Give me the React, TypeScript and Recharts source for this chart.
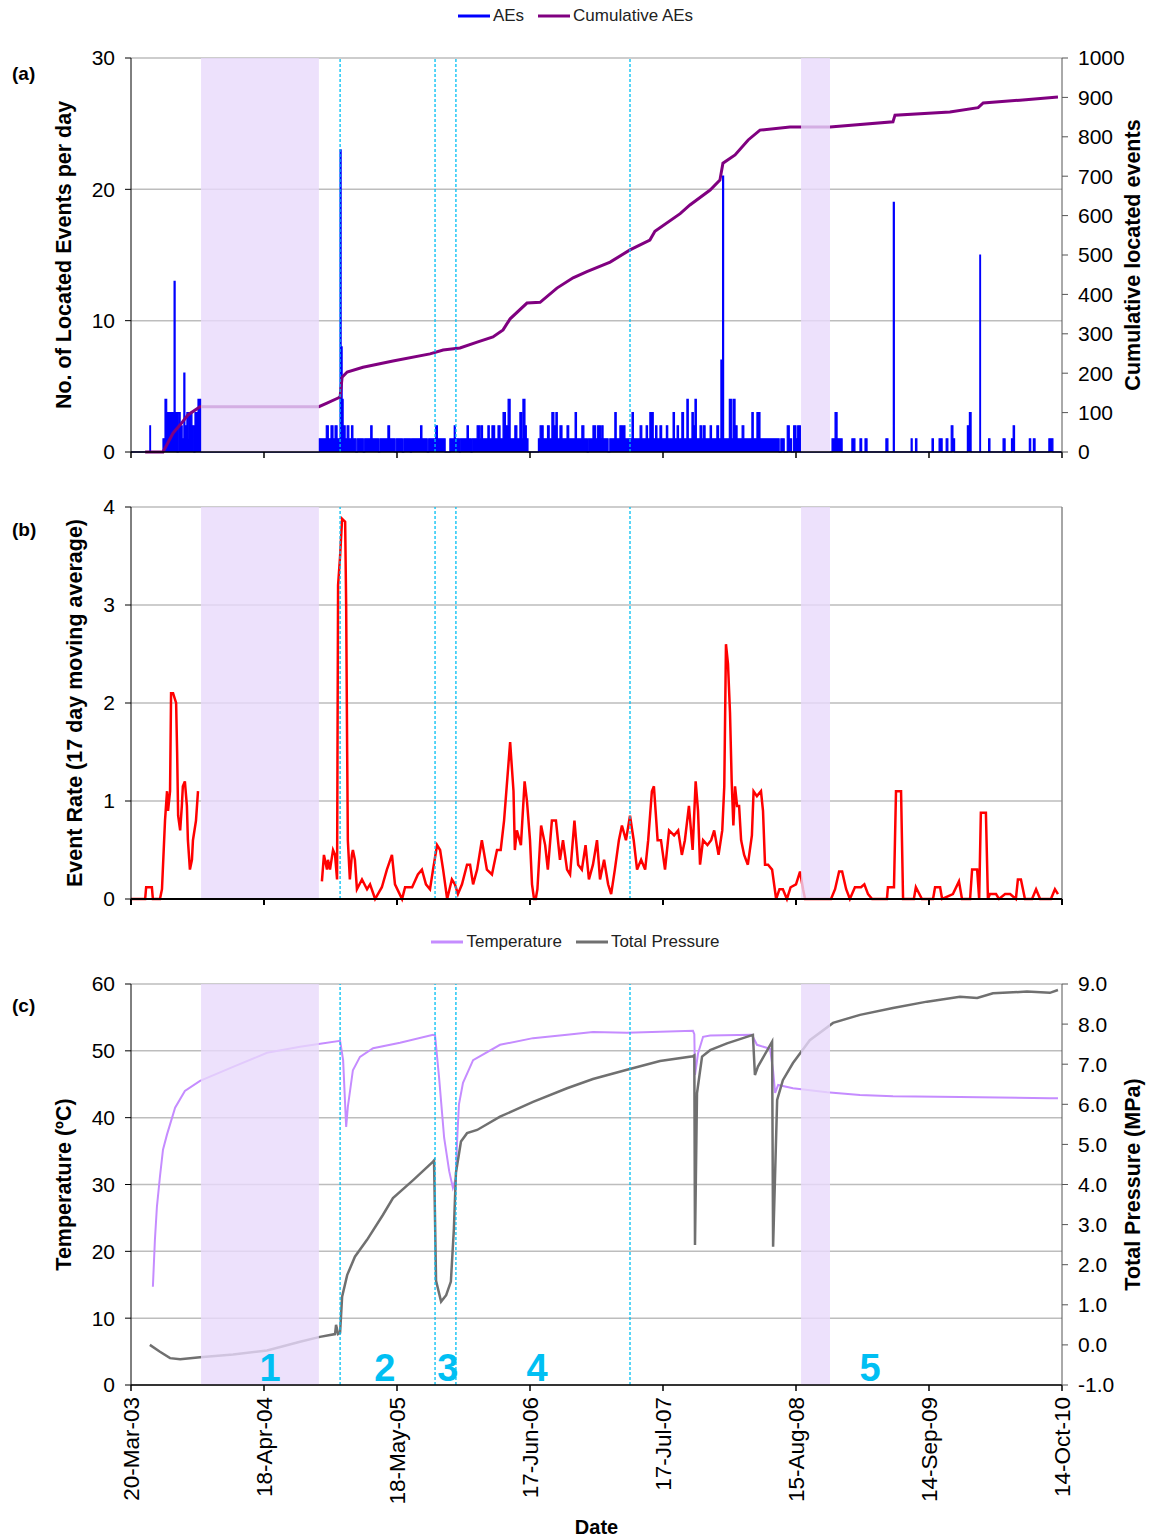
import React from 'react';
import {
  Area,
  CartesianGrid,
  ComposedChart,
  Line,
  ReferenceArea,
  ReferenceDot,
  ReferenceLine,
  XAxis,
  YAxis,
} from 'recharts';

const FONT = '"Liberation Sans", Arial, sans-serif';
const W = 1151;

// x axis is in days since 20-Mar-03
const dayTicks = [0, 395, 790, 1185, 1580, 1975, 2370, 2765];
const dateLabels = ['20-Mar-03', '18-Apr-04', '18-May-05', '17-Jun-06', '17-Jul-07', '15-Aug-08', '14-Sep-09', '14-Oct-10'];

const shadedPeriods: [number, number][] = [[208, 558], [1990, 2076]];
const stageLines = [621, 903, 965, 1482];
const stageLabels = [
  { day: 413, text: '1' },
  { day: 754, text: '2' },
  { day: 941, text: '3' },
  { day: 1206, text: '4' },
  { day: 2195, text: '5' },
];

// (a) located AEs per day, [day, count] (count holds until next entry)
const aeSteps: [number, number][] = [
  [0, 0], [56, 2], [58, 0],
  [95, 1], [101, 4], [106, 3], [128, 13], [131, 3], [137, 0], [140, 3], [146, 2], [152, 1], [157, 6], [160, 2],
  [166, 3], [172, 1], [175, 3], [181, 2], [187, 0], [190, 3], [196, 2], [199, 4], [208, 0],
  [558, 1], [580, 2], [586, 1], [594, 2], [600, 1], [606, 2], [612, 1], [621, 23], [624, 8], [627, 4], [630, 2], [636, 1],
  [642, 2], [647, 1], [655, 2], [659, 1], [668, 0], [672, 1], [690, 0], [694, 1], [712, 2], [716, 1], [735, 0], [739, 1],
  [763, 2], [768, 1], [784, 0], [788, 1], [806, 0], [810, 1], [830, 0], [833, 1], [860, 2], [864, 1], [880, 0], [884, 1],
  [905, 2], [910, 1], [933, 0], [947, 1], [960, 2], [963, 1], [975, 0], [978, 1], [998, 2], [1002, 1], [1010, 0], [1013, 1],
  [1028, 2], [1036, 1], [1040, 2], [1044, 1], [1060, 2], [1064, 1], [1072, 2], [1080, 1], [1090, 2], [1096, 1],
  [1105, 3], [1112, 2], [1120, 4], [1126, 1], [1140, 2], [1146, 1], [1155, 3], [1160, 1], [1164, 4], [1170, 2], [1174, 1],
  [1179, 0], [1210, 1], [1215, 2], [1224, 1], [1237, 2], [1242, 1], [1250, 3], [1256, 2], [1262, 3], [1266, 1], [1274, 2], [1280, 1],
  [1295, 2], [1300, 1], [1319, 3], [1323, 1], [1339, 2], [1345, 1], [1355, 0], [1358, 1], [1372, 2], [1380, 1], [1386, 2],
  [1394, 1], [1398, 2], [1402, 1], [1417, 0], [1422, 1], [1437, 3], [1441, 1], [1452, 2], [1460, 1], [1463, 2], [1467, 1],
  [1488, 3], [1492, 1], [1512, 2], [1517, 1], [1530, 2], [1534, 1], [1541, 3], [1546, 1], [1548, 3], [1551, 1], [1558, 2],
  [1562, 1], [1571, 2], [1576, 1], [1590, 2], [1594, 1], [1610, 3], [1614, 1], [1622, 2], [1626, 1], [1636, 3], [1641, 1],
  [1651, 4], [1655, 1], [1666, 3], [1670, 2], [1675, 4], [1679, 1], [1690, 2], [1694, 1], [1699, 2], [1705, 1], [1720, 2],
  [1724, 1], [1740, 2], [1745, 1], [1752, 7], [1757, 21], [1760, 1], [1777, 4], [1783, 1], [1788, 4], [1794, 2], [1800, 1],
  [1815, 2], [1820, 1], [1844, 3], [1848, 1], [1859, 3], [1868, 1], [1925, 0], [1930, 1], [1940, 0], [1949, 2], [1955, 1],
  [1962, 0], [1968, 2], [1975, 1], [1980, 2], [1988, 0],
  [2082, 1], [2091, 3], [2097, 1], [2112, 0], [2141, 1], [2150, 0], [2165, 1], [2170, 0], [2180, 1], [2186, 0], [2242, 1],
  [2248, 0], [2264, 19], [2267, 0], [2317, 1], [2320, 0], [2330, 1], [2334, 0], [2379, 1], [2383, 0], [2400, 1], [2409, 0],
  [2421, 1], [2426, 0], [2436, 2], [2441, 1], [2446, 0], [2484, 2], [2490, 3], [2495, 0], [2521, 15], [2523, 0], [2547, 1],
  [2551, 0], [2590, 1], [2596, 0], [2615, 1], [2620, 2], [2624, 0], [2668, 1], [2672, 0], [2680, 1], [2685, 0], [2726, 1],
  [2738, 0], [2765, 0],
];

// (a) cumulative located events
const cumulative: [number, number][] = [
  [42, 0], [95, 0], [125, 48], [146, 69], [169, 94], [205, 115], [558, 115], [582, 124], [615, 137], [621, 140], [627, 190],
  [642, 203], [689, 215], [778, 231], [888, 249], [927, 259], [977, 264], [1028, 279], [1075, 292], [1105, 310], [1126, 338],
  [1176, 378], [1215, 380], [1265, 416], [1313, 442], [1354, 458], [1423, 482], [1482, 513], [1541, 538], [1556, 560],
  [1631, 605], [1660, 627], [1720, 665], [1749, 690], [1758, 733], [1794, 754], [1833, 792], [1868, 817], [1957, 825],
  [2076, 825], [2263, 838], [2269, 855], [2432, 863], [2516, 874], [2531, 886], [2640, 893], [2753, 901],
];

// (b) 17 day moving average event rate (null = no data)
const eventRate: [number, number | null][] = [
  [0, 0], [42, 0], [45, 0.12], [62, 0.12], [65, 0], [86, 0], [92, 0.1], [101, 0.8], [107, 1.1], [110, 0.9], [116, 1.1],
  [119, 2.1], [125, 2.1], [134, 2.0], [137, 1.5], [140, 0.85], [146, 0.7], [151, 0.95], [154, 1.15], [160, 1.2], [166, 0.95],
  [169, 0.6], [175, 0.3], [181, 0.4], [184, 0.6], [193, 0.8], [199, 1.1],
  [380, null],
  [567, 0.18], [573, 0.45], [582, 0.3], [585, 0.4], [591, 0.3], [600, 0.5], [606, 0.45], [612, 0.2], [615, 3.2], [621, 3.5],
  [627, 3.88], [636, 3.85], [639, 3.0], [642, 1.5], [644, 0.6], [650, 0.2], [656, 0.45], [659, 0.5], [665, 0.4], [671, 0.1],
  [686, 0.2], [701, 0.1], [710, 0.15], [725, 0.0], [745, 0.12], [760, 0.3], [775, 0.45], [784, 0.15], [805, 0.0], [814, 0.12],
  [835, 0.12], [852, 0.25], [864, 0.3], [876, 0.15], [888, 0.1], [897, 0.3], [909, 0.55], [918, 0.5], [927, 0.3], [939, 0.0],
  [953, 0.2], [962, 0.15], [971, 0.05], [983, 0.15], [998, 0.35], [1007, 0.35], [1016, 0.15], [1028, 0.3], [1042, 0.6],
  [1057, 0.3], [1072, 0.25], [1087, 0.5], [1098, 0.5], [1108, 0.8], [1126, 1.6], [1136, 1.1], [1140, 0.5], [1146, 0.7],
  [1158, 0.55], [1169, 1.2], [1176, 1.0], [1185, 0.6], [1191, 0.15], [1197, 0.0], [1202, 0.0], [1207, 0.1], [1218, 0.75],
  [1230, 0.55], [1238, 0.3], [1250, 0.8], [1262, 0.8], [1274, 0.4], [1283, 0.6], [1295, 0.3], [1304, 0.25], [1317, 0.8],
  [1328, 0.35], [1339, 0.3], [1350, 0.55], [1360, 0.2], [1372, 0.35], [1384, 0.6], [1393, 0.2], [1405, 0.4], [1417, 0.15],
  [1426, 0.05], [1437, 0.3], [1449, 0.6], [1458, 0.75], [1470, 0.6], [1482, 0.85], [1493, 0.6], [1503, 0.3], [1515, 0.4],
  [1527, 0.3], [1536, 0.6], [1547, 1.1], [1553, 1.15], [1564, 0.6], [1574, 0.6], [1586, 0.3], [1598, 0.7], [1613, 0.65],
  [1625, 0.7], [1636, 0.45], [1645, 0.6], [1657, 0.95], [1668, 0.5], [1677, 1.2], [1684, 0.9], [1690, 0.35], [1699, 0.6],
  [1712, 0.55], [1723, 0.6], [1732, 0.7], [1745, 0.45], [1756, 0.7], [1762, 1.15], [1767, 2.6], [1773, 2.4], [1779, 1.9],
  [1784, 1.2], [1789, 0.75], [1794, 1.15], [1800, 0.95], [1806, 0.95], [1812, 0.6], [1821, 0.45], [1832, 0.35], [1844, 0.65],
  [1849, 1.1], [1859, 1.05], [1871, 1.1], [1877, 0.9], [1883, 0.35], [1892, 0.35], [1904, 0.3], [1916, 0.0], [1926, 0.1],
  [1936, 0.1], [1948, 0.0], [1959, 0.12], [1975, 0.15], [1987, 0.28], [1996, 0.1], [2002, 0.0], [2079, 0.0], [2091, 0.1],
  [2103, 0.28], [2112, 0.28], [2124, 0.1], [2135, 0.0], [2150, 0.12], [2168, 0.12], [2178, 0.15], [2189, 0.05], [2201, 0.0],
  [2245, 0.0], [2248, 0.12], [2266, 0.12], [2272, 1.1], [2287, 1.1], [2293, 0.0], [2325, 0.0], [2331, 0.12], [2349, 0.0],
  [2382, 0.0], [2388, 0.12], [2403, 0.12], [2409, 0.0], [2441, 0.05], [2459, 0.18], [2468, 0.0], [2492, 0.0], [2498, 0.3],
  [2513, 0.3], [2519, 0.0], [2524, 0.88], [2539, 0.88], [2545, 0.0], [2551, 0.05], [2569, 0.05], [2578, 0.0], [2596, 0.05],
  [2611, 0.05], [2628, 0.0], [2634, 0.2], [2643, 0.2], [2655, 0.0], [2676, 0.0], [2688, 0.1], [2700, 0.0], [2732, 0.0],
  [2744, 0.1], [2753, 0.05],
];

// (c) temperature (ºC)
const temperature: [number, number][] = [
  [65, 14.7], [71, 21.7], [77, 26.7], [86, 31.2], [95, 35.2], [107, 37.5], [131, 41.5], [160, 44.0], [205, 45.5], [303, 47.6],
  [404, 49.7], [502, 50.6], [552, 51.0], [621, 51.5], [630, 48.6], [639, 38.6], [644, 41.6], [659, 47.1], [680, 49.1],
  [719, 50.4], [799, 51.2], [897, 52.4], [903, 52.3], [915, 46], [930, 37], [945, 32], [956, 29.5], [965, 31], [968, 36],
  [974, 42], [986, 45.2], [1016, 48.6], [1096, 50.9], [1194, 51.9], [1295, 52.4], [1372, 52.8], [1473, 52.7], [1669, 53.0],
  [1673, 52.5], [1675, 46.4], [1684, 49.6], [1699, 52.1], [1720, 52.3], [1844, 52.4], [1859, 50.9], [1898, 50.3], [1907, 47],
  [1913, 43.7], [1922, 44.9], [1966, 44.4], [2067, 43.8], [2165, 43.4], [2263, 43.2], [2462, 43.1], [2729, 42.9], [2753, 42.9],
];

// (c) total pressure (MPa)
const pressure: [number, number][] = [
  [56, 0.0], [86, -0.17], [116, -0.33], [146, -0.36], [205, -0.31], [303, -0.24], [404, -0.14], [502, 0.08], [561, 0.2],
  [606, 0.27], [609, 0.5], [615, 0.27], [621, 0.3], [627, 1.2], [642, 1.74], [665, 2.2], [701, 2.62], [748, 3.24], [778, 3.66],
  [838, 4.11], [897, 4.57], [900, 4.6], [906, 1.6], [921, 1.08], [936, 1.24], [950, 1.58], [959, 2.9], [965, 4.29], [980, 5.07],
  [998, 5.28], [1028, 5.36], [1096, 5.69], [1194, 6.06], [1295, 6.4], [1372, 6.63], [1473, 6.86], [1571, 7.08], [1669, 7.2],
  [1673, 7.22], [1675, 2.49], [1681, 6.28], [1696, 7.19], [1720, 7.35], [1770, 7.52], [1847, 7.73], [1853, 6.73], [1862, 6.94],
  [1904, 7.56], [1907, 2.45], [1919, 6.11], [1936, 6.6], [1966, 7.03], [2016, 7.6], [2085, 8.03], [2165, 8.23], [2263, 8.4],
  [2364, 8.56], [2462, 8.68], [2513, 8.65], [2560, 8.77], [2661, 8.81], [2729, 8.78], [2753, 8.85],
];

const aeData = aeSteps.map(([day, n]) => ({ day, n }));
const cumData = cumulative.map(([day, c]) => ({ day, c }));
const rateData = eventRate.map(([day, r]) => ({ day, r }));
const tempData = temperature.map(([day, t]) => ({ day, t }));
const pressData = pressure.map(([day, p]) => ({ day, p }));

const tickStyle = { fontSize: 21, fill: '#000', fontFamily: FONT };

const yTitle = (text: string, cx: number) => (props: any) => {
  const vb = props.viewBox || {};
  const cy = (vb.y || 0) + (vb.height || 0) / 2;
  return (
    <text
      x={cx}
      y={cy}
      transform={`rotate(-90, ${cx}, ${cy})`}
      textAnchor="middle"
      dominantBaseline="central"
      fontWeight="bold"
      fontSize={21.5}
      fontFamily={FONT}
      fill="#000"
    >
      {text}
    </text>
  );
};

const dateTitle = (props: any) => {
  const vb = props.viewBox || {};
  return (
    <text x={vb.x + vb.width / 2} y={vb.y + vb.height - 5} textAnchor="middle" fontWeight="bold" fontSize={20} fontFamily={FONT} fill="#000">
      Date
    </text>
  );
};

const DateTick = ({ x, y, payload }: any) => (
  <text
    x={x}
    y={y}
    transform={`rotate(-90, ${x}, ${y})`}
    textAnchor="end"
    dy="0.35em"
    fontSize={22.5}
    fill="#000"
    fontFamily={FONT}
  >
    {dateLabels[dayTicks.indexOf(payload.value)]}
  </text>
);

const stageText = (text: string) => (props: any) => {
  const vb = props.viewBox || {};
  return (
    <text
      x={vb.x + vb.width / 2}
      y={vb.y + vb.height / 2}
      textAnchor="middle"
      dominantBaseline="central"
      fontSize={38}
      fontWeight="bold"
      fontFamily={FONT}
      fill="#00bff3"
    >
      {text}
    </text>
  );
};

const LegendItem = ({ color, label, gap }: { color: string; label: string; gap?: boolean }) => (
  <span style={{ display: 'inline-flex', alignItems: 'center', marginLeft: gap ? 14 : 0 }}>
    <svg width={32} height={10}>
      <line x1={0} y1={5} x2={32} y2={5} stroke={color} strokeWidth={3} />
    </svg>
    <span style={{ marginLeft: 3 }}>{label}</span>
  </span>
);

const legendRow = (top: number): React.CSSProperties => ({
  position: 'absolute',
  top,
  left: 0,
  width: W,
  textAlign: 'center',
  fontSize: 17,
  color: '#222',
  fontFamily: FONT,
});

const panelTag = (top: number): React.CSSProperties => ({
  position: 'absolute',
  top,
  left: 12,
  fontSize: 19,
  fontWeight: 'bold',
  fontFamily: FONT,
});

function overlays() {
  return [
    ...shadedPeriods.map(([a, b]) => (
      <ReferenceArea key={`s${a}`} x1={a} x2={b} yAxisId="left" fill="#e8d9fb" fillOpacity={0.8} stroke="none" zIndex={450} />
    )),
    ...stageLines.map((d) => (
      <ReferenceLine key={`l${d}`} x={d} yAxisId="left" stroke="#00bff3" strokeWidth={1.3} strokeDasharray="3 2" zIndex={460} />
    )),
  ];
}

const xProps = {
  type: 'number' as const,
  dataKey: 'day',
  domain: [0, 2765],
  ticks: dayTicks,
  interval: 0 as const,
  allowDataOverflow: true,
  stroke: '#000',
  strokeWidth: 1.5,
};

export default function App() {
  return (
    <div style={{ position: 'absolute', left: 0, top: 0, width: W, height: 1539, background: '#fff', fontFamily: FONT }}>
      <div style={legendRow(6)}>
        <LegendItem color="#0000ff" label="AEs" />
        <LegendItem color="#800080" label="Cumulative AEs" gap />
      </div>
      <div style={panelTag(63)}>(a)</div>
      <div style={panelTag(519)}>(b)</div>
      <div style={panelTag(995)}>(c)</div>

      {/* (a) daily and cumulative located events */}
      <div style={{ position: 'absolute', left: 0, top: 0 }}>
        <ComposedChart width={W} height={470} margin={{ top: 58, right: 29, bottom: 0, left: 71 }}>
          <CartesianGrid yAxisId="left" vertical={false} stroke="#bdbdbd" strokeWidth={1.5} />
          <XAxis {...xProps} height={18} tickFormatter={() => ''} />
          <YAxis yAxisId="left" domain={[0, 30]} ticks={[0, 10, 20, 30]} width={60} stroke="#000" tick={tickStyle} tickMargin={10} label={yTitle('No. of Located Events per day', 64)} />
          <YAxis yAxisId="right" orientation="right" domain={[0, 1000]} ticks={[0, 100, 200, 300, 400, 500, 600, 700, 800, 900, 1000]} width={60} stroke="#555" tick={tickStyle} tickMargin={10} label={yTitle('Cumulative located events', 1133)} />
          <Area yAxisId="left" data={aeData} dataKey="n" type="stepAfter" stroke="#0000ff" strokeWidth={1.2} fill="#0000ff" fillOpacity={1} dot={false} activeDot={false} isAnimationActive={false} />
          <Line yAxisId="right" data={cumData} dataKey="c" type="linear" stroke="#800080" strokeWidth={3} dot={false} activeDot={false} isAnimationActive={false} />
          {overlays()}
        </ComposedChart>
      </div>

      {/* (b) event rate */}
      <div style={{ position: 'absolute', left: 0, top: 480 }}>
        <ComposedChart width={W} height={440} margin={{ top: 27, right: 89, bottom: 0, left: 71 }}>
          <CartesianGrid yAxisId="left" vertical={false} stroke="#bdbdbd" strokeWidth={1.5} />
          <XAxis {...xProps} height={21} tickFormatter={() => ''} strokeWidth={2} />
          <YAxis yAxisId="left" domain={[0, 4]} ticks={[0, 1, 2, 3, 4]} width={60} stroke="#000" tick={tickStyle} tickMargin={10} label={yTitle('Event Rate (17 day moving average)', 75)} />
          <ReferenceLine yAxisId="left" x={2765} stroke="#888" strokeWidth={1.5} />
          <Line yAxisId="left" data={rateData} dataKey="r" type="linear" stroke="#ff0000" strokeWidth={2.5} dot={false} activeDot={false} isAnimationActive={false} />
          {overlays()}
        </ComposedChart>
      </div>

      <div style={legendRow(932)}>
        <LegendItem color="#c58cff" label="Temperature" />
        <LegendItem color="#707070" label="Total Pressure" gap />
      </div>

      {/* (c) temperature and total pressure */}
      <div style={{ position: 'absolute', left: 0, top: 925 }}>
        <ComposedChart width={W} height={614} margin={{ top: 59, right: 29, bottom: 0, left: 71 }}>
          <CartesianGrid yAxisId="left" vertical={false} stroke="#bdbdbd" strokeWidth={1.5} />
          <XAxis {...xProps} height={154} tick={<DateTick />} tickMargin={6} label={dateTitle} />
          <YAxis yAxisId="left" domain={[0, 60]} ticks={[0, 10, 20, 30, 40, 50, 60]} width={60} stroke="#000" tick={tickStyle} tickMargin={10} label={yTitle('Temperature (ºC)', 64)} />
          <YAxis
            yAxisId="right"
            orientation="right"
            domain={[-1, 9]}
            ticks={[-1, 0, 1, 2, 3, 4, 5, 6, 7, 8, 9]}
            tickFormatter={(v: number) => v.toFixed(1)}
            width={60}
            stroke="#555"
            tick={tickStyle}
            tickMargin={10}
            label={yTitle('Total Pressure (MPa)', 1133)}
          />
          <Line yAxisId="left" data={tempData} dataKey="t" type="linear" stroke="#c58cff" strokeWidth={2} dot={false} activeDot={false} isAnimationActive={false} />
          <Line yAxisId="right" data={pressData} dataKey="p" type="linear" stroke="#707070" strokeWidth={2.5} dot={false} activeDot={false} isAnimationActive={false} />
          {overlays()}
          {stageLabels.map((s) => (
            <ReferenceDot key={s.text} yAxisId="left" x={s.day} y={2.5} r={1} fill="none" stroke="none" label={stageText(s.text)} />
          ))}
        </ComposedChart>
      </div>
    </div>
  );
}
